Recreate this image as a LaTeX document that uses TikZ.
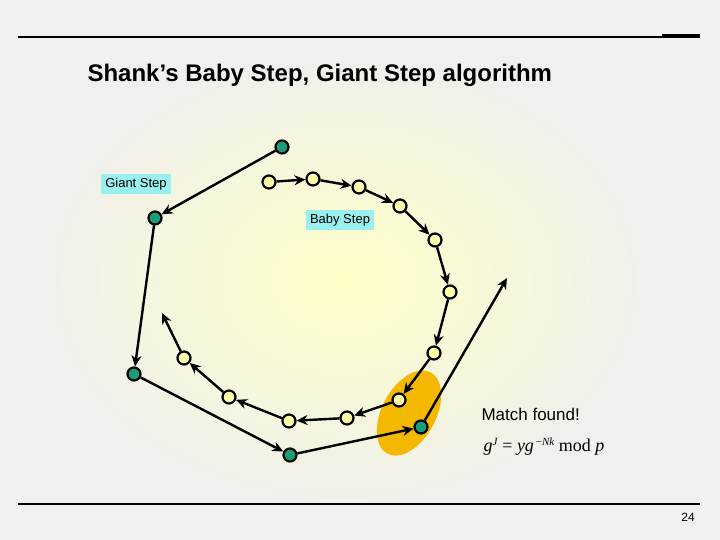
\documentclass[tikz,border=0pt]{standalone}
\usepackage{fontspec}
\setmainfont{Liberation Sans}
\newfontfamily\serifx{Liberation Serif}
\usetikzlibrary{arrows.meta}
\definecolor{bg}{HTML}{F0F0EC}
\definecolor{glow}{HTML}{FFFFC8}
\definecolor{teal}{HTML}{1A9E7A}
\definecolor{pale}{HTML}{FFFFA8}
\definecolor{cyanbox}{HTML}{99F0EE}
\definecolor{orng}{HTML}{F5B800}
\tikzset{
  gdot/.style={circle,draw=black,line width=2.2pt,fill=teal,inner sep=0pt,minimum size=13pt},
  ydot/.style={circle,draw=black,line width=2.2pt,fill=pale,inner sep=0pt,minimum size=13pt},
  arr/.style={-{Stealth[length=11pt,width=10pt]},line width=2.4pt},
  lbl/.style={fill=cyanbox,font=\fontsize{13}{15}\selectfont,inner sep=4pt}
}
\begin{document}
\begin{tikzpicture}[x=1pt,y=-1pt]
\fill[bg] (0,0) rectangle (720,540);
\useasboundingbox (0,0) rectangle (720,540);
\fill[inner color=glow,outer color=bg] (50,60) rectangle (640,500);
\draw[line width=2pt] (18,37) -- (700,37);
\draw[line width=3pt] (662,36) -- (700,36);
\draw[line width=1.3pt] (18,504) -- (700,504);
\node[anchor=west,font=\bfseries\fontsize{24}{28}\selectfont] (title) at (84,75) {Shank’s Baby Step, Giant Step algorithm};
\node[font=\fontsize{12}{14}\selectfont] (pg) at (688,517) {24};
\fill[orng,rotate around={-28:(409,413)}] (409,413) ellipse (27 and 46);
\node[lbl] (gs) at (136,184) {Giant Step};
\node[lbl] (bs) at (340,220) {Baby Step};
\node[anchor=west,font=\fontsize{17}{20}\selectfont] (mf) at (478,414) {Match found!};
\node[anchor=west,font=\serifx\fontsize{18}{20}\selectfont] (eq) at (480,447) {\textit{g}\raisebox{6pt}{\fontsize{11}{12}\selectfont\textit{J}} = \textit{yg}\raisebox{6pt}{\fontsize{11}{12}\selectfont\,−\textit{Nk}} mod \textit{p}};
\foreach \n/\x/\y in {1/269/182,2/313/179,3/359/187,4/400/206,5/435/240,6/450/292,7/434/353,8/399/400,9/347/418,10/289/421,11/229/397,12/184/358}
  \node[ydot] (y\n) at (\x,\y) {};
\foreach \n/\x/\y in {1/282/147,2/155/218,3/134/374,4/290/455,5/421/427}
  \node[gdot] (g\n) at (\x,\y) {};
\coordinate (yend) at (162,313);
\coordinate (gend) at (507,278);
\foreach \a/\b in {1/2,2/3,3/4,4/5,5/6,6/7,7/8,8/9,9/10,10/11,11/12}
  \draw[arr] (y\a) -- (y\b);
\draw[arr] (y12) -- (yend);
\foreach \a/\b in {1/2,2/3,3/4,4/5}
  \draw[arr] (g\a) -- (g\b);
\draw[arr] (g5) -- (gend);
\end{tikzpicture}
\end{document}
